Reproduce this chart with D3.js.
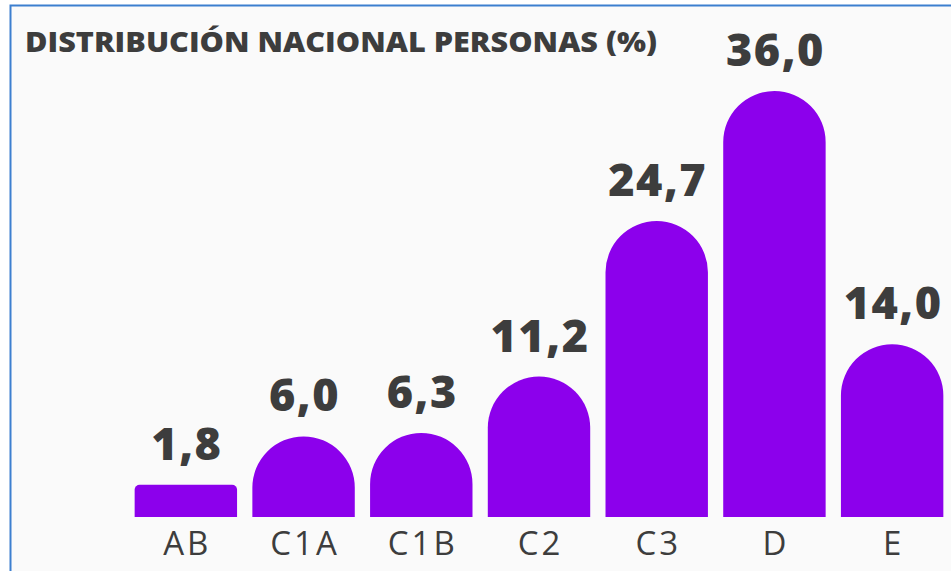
<!DOCTYPE html>
<html>

<head>
  <meta charset="utf-8">
  <script src="https://cdn.jsdelivr.net/npm/d3@7"></script>
  <style>
    body {
      margin: 0;
      background: white;
    }

    text {
      font-family: "Open Sans", sans-serif;
      fill: #3d3d3d;
    }
  </style>
</head>

<body>
  <script>
    const title = 'DISTRIBUCIÓN NACIONAL PERSONAS (%)'
    const categories = ['AB', 'C1A', 'C1B', 'C2', 'C3', 'D', 'E']
    const values = [1.8, 6.0, 6.3, 11.2, 24.7, 36.0, 14.0]

    const width = 951
    const height = 571
    const baseline = 517

    const svg = d3.select('body').append('svg')
      .attr('width', width)
      .attr('height', height)

    // panel background + blue frame (top and left edge only visible)
    svg.append('rect')
      .attr('x', 11).attr('y', 6)
      .attr('width', width - 11).attr('height', height - 6)
      .attr('fill', '#fafafa')
    svg.append('path')
      .attr('d', `M10.5,${height} V5.5 H${width}`)
      .attr('fill', 'none')
      .attr('stroke', '#3c7fcf')
      .attr('stroke-width', 2)

    svg.append('text')
      .attr('x', 25).attr('y', 52)
      .attr('font-size', 28)
      .attr('font-weight', 800)
      .attr('textLength', 632)
      .attr('lengthAdjust', 'spacingAndGlyphs')
      .text(title)

    const x = d3.scaleBand()
      .domain(categories)
      .range([127, 951])
      .paddingInner(0.13)
      .paddingOuter(0.065)

    const y = d3.scaleLinear()
      .domain([-1, 36])
      .range([baseline, 91])

    const data = categories.map((c, i) => ({ cat: c, val: values[i] }))

    function barPath(d) {
      const x0 = x(d.cat)
      const w = x.bandwidth()
      const top = y(d.val)
      const h = baseline - top
      const r = h >= w / 2 ? w / 2 : 5
      return `M${x0},${baseline} V${top + r} A${r},${r} 0 0 1 ${x0 + r},${top}` +
        ` H${x0 + w - r} A${r},${r} 0 0 1 ${x0 + w},${top + r} V${baseline} Z`
    }

    svg.selectAll('path.bar')
      .data(data)
      .join('path')
      .attr('class', 'bar')
      .attr('d', barPath)
      .attr('fill', '#8c00ec')

    const fmt = d3.formatLocale({ decimal: ',', thousands: '.', grouping: [3], currency: ['', ''] }).format('.1f')

    svg.selectAll('text.val')
      .data(data)
      .join('text')
      .attr('class', 'val')
      .attr('x', d => x(d.cat) + x.bandwidth() / 2 + 1)
      .attr('y', d => y(d.val) - 25)
      .attr('text-anchor', 'middle')
      .attr('font-size', 45)
      .attr('font-weight', 800)
      .attr('letter-spacing', 1.5)
      .text(d => fmt(d.val))

    svg.selectAll('text.cat')
      .data(data)
      .join('text')
      .attr('class', 'cat')
      .attr('x', d => x(d.cat) + x.bandwidth() / 2 + 1.5)
      .attr('y', 555)
      .attr('text-anchor', 'middle')
      .attr('font-size', 33)
      .attr('font-weight', 500)
      .attr('letter-spacing', 3)
      .text(d => d.cat)
  </script>
</body>

</html>
